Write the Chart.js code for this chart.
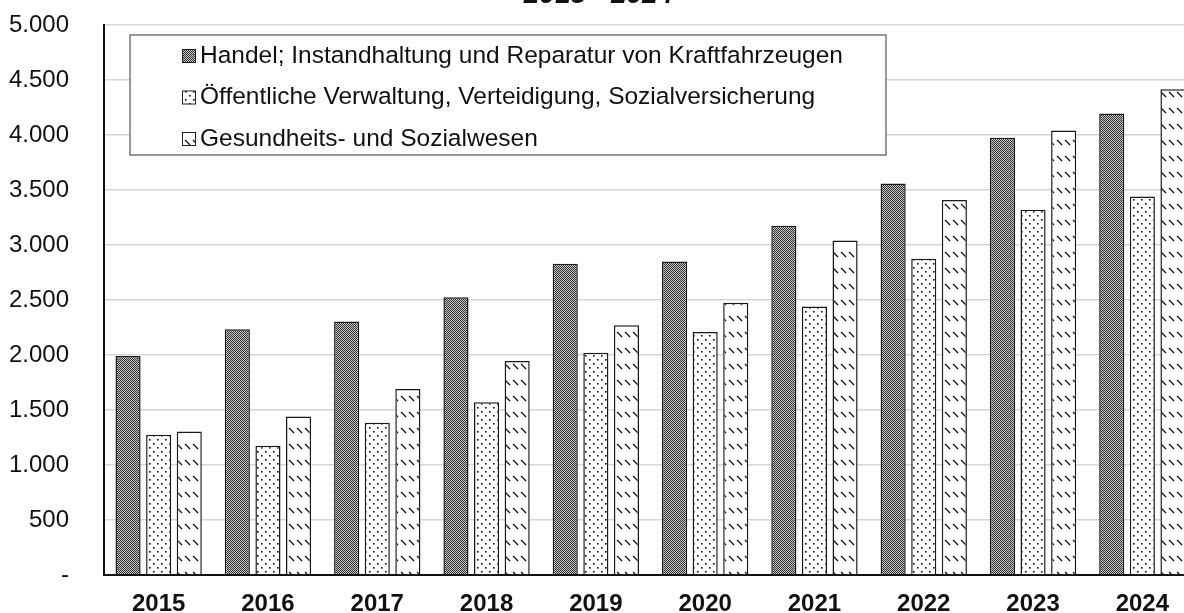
<!DOCTYPE html>
<html>
<head>
<meta charset="utf-8">
<script src="https://cdn.jsdelivr.net/npm/chart.js@4"></script>
<style>
  body { margin: 0; background: #fff; overflow: hidden; }
  #wrap { position: relative; width: 1184px; height: 613px; overflow: hidden; }
  #chart { position: absolute; left: 0; top: -22px; }
</style>
</head>
<body>
<div id="wrap"><canvas id="chart" width="1222" height="635"></canvas></div>
<script>
// values
const years = ["2015", "2016", "2017", "2018", "2019", "2020", "2021", "2022", "2023", "2024"];
const handel = [1990, 2235, 2305, 2525, 2830, 2850, 3175, 3560, 3975, 4195];
const verwaltung = [1275, 1175, 1385, 1570, 2020, 2210, 2440, 2875, 3320, 3440];
const gesundheit = [1305, 1440, 1690, 1945, 2270, 2475, 3040, 3410, 4040, 4415];
const seriesNames = [
    "Handel; Instandhaltung und Reparatur von Kraftfahrzeugen",
    "Öffentliche Verwaltung, Verteidigung, Sozialversicherung",
    "Gesundheits- und Sozialwesen"
];
const titleText = "2015 - 2024";

const FONT = "'Liberation Sans', Arial, sans-serif";

// fill patterns like the old excel ones
function makePattern(w, h, draw) {
    const c = document.createElement("canvas");
    c.width = w; c.height = h;
    const g = c.getContext("2d");
    draw(g);
    return g.createPattern(c, "repeat");
}

const darkCheck = makePattern(2, 2, g => {
    g.fillStyle = "#c4c4c4"; g.fillRect(0, 0, 2, 2);
    g.fillStyle = "#333"; g.fillRect(0, 0, 1, 1); g.fillRect(1, 1, 1, 1);
});
const dots = makePattern(8, 8, g => {
    g.fillStyle = "#fff"; g.fillRect(0, 0, 8, 8);
    g.fillStyle = "#111";
    g.fillRect(1, 1, 1.6, 1.6);
    g.fillRect(5, 5, 1.6, 1.6);
});
const dashes = makePattern(8, 16, g => {
    g.fillStyle = "#fff"; g.fillRect(0, 0, 8, 16);
    g.strokeStyle = "#111"; g.lineWidth = 1.3;
    g.beginPath(); g.moveTo(1, 2); g.lineTo(6, 7); g.stroke();
});

// legend in a framed box inside the plot
const boxLegend = {
    id: "boxLegend",
    afterDatasetsDraw(chart) {
        const ctx = chart.ctx;
        const a = chart.chartArea;
        const x = a.left + 26, y = a.top + 10, w = 756, h = 120;
        ctx.save();
        ctx.fillStyle = "#fff";
        ctx.fillRect(x, y, w, h);
        ctx.strokeStyle = "#555";
        ctx.lineWidth = 1.2;
        ctx.strokeRect(x, y, w, h);
        ctx.font = "24.5px " + FONT;
        ctx.textBaseline = "middle";
        chart.data.datasets.forEach((ds, i) => {
            const cy = y + 21 + i * 41.5;
            ctx.fillStyle = ds.backgroundColor;
            ctx.fillRect(x + 52, cy - 7, 14, 14);
            ctx.strokeStyle = "#222";
            ctx.lineWidth = 1;
            ctx.strokeRect(x + 52.5, cy - 6.5, 13, 13);
            ctx.fillStyle = "#111";
            ctx.fillText(ds.label, x + 70, cy);
        });
        ctx.restore();
    }
};

function fmt(v) {
    if (v === 0) return "-";
    return String(v).replace(/\B(?=(\d{3})+(?!\d))/g, ".");
}

const fills = [darkCheck, dots, dashes];
const values = [handel, verwaltung, gesundheit];

new Chart(document.getElementById("chart"), {
    type: "bar",
    data: {
        labels: years,
        datasets: values.map((vals, i) => ({
            label: seriesNames[i],
            data: vals,
            backgroundColor: fills[i],
            borderColor: "#1a1a1a",
            borderWidth: 1.5,
            categoryPercentage: 0.84,
            barPercentage: 0.82
        }))
    },
    options: {
        responsive: false,
        animation: false,
        layout: { padding: { left: 0, right: 25, top: 0, bottom: 0 } },
        plugins: {
            legend: { display: false },
            tooltip: { enabled: false },
            title: {
                display: true,
                text: titleText,
                color: "#111",
                font: { family: FONT, size: 28, weight: "bold", style: "italic" },
                padding: { top: 0, bottom: 13.4 }
            }
        },
        scales: {
            x: {
                grid: { display: false, drawTicks: false },
                border: { display: true, color: "#111", width: 2 },
                ticks: {
                    color: "#111",
                    padding: 15,
                    font: { family: FONT, size: 24, weight: "bold" },
                    maxRotation: 0
                },
                afterFit: s => { s.height = 38; }
            },
            y: {
                min: 0,
                max: 5000,
                // invisible tick marks keep the labels away from the axis
                grid: { color: "#d6d6d6", lineWidth: 1.6, drawTicks: true, tickLength: 35, tickColor: "rgba(0,0,0,0)" },
                border: { display: true, color: "#111", width: 2 },
                ticks: {
                    stepSize: 500,
                    color: "#111",
                    padding: 0,
                    font: { family: FONT, size: 24 },
                    callback: v => fmt(v)
                },
                afterFit: s => { s.width = 104; }
            }
        }
    },
    plugins: [boxLegend]
});
</script>
</body>
</html>
